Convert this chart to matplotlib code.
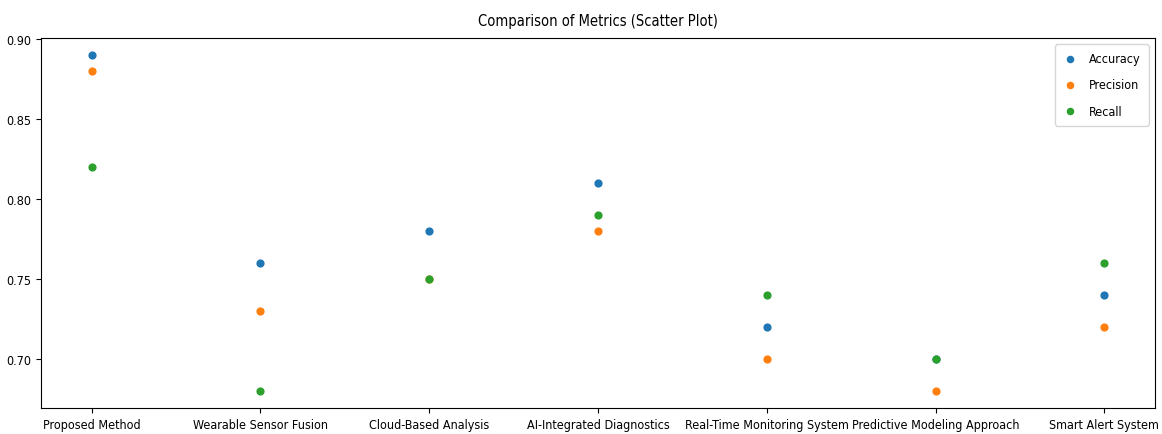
import matplotlib
matplotlib.use("Agg")
import matplotlib.pyplot as plt

categories = ["Proposed Method", "Wearable Sensor Fusion", "Cloud-Based Analysis",
              "AI-Integrated Diagnostics", "Real-Time Monitoring System",
              "Predictive Modeling Approach", "Smart Alert System"]
accuracy = [0.89, 0.76, 0.78, 0.81, 0.72, 0.70, 0.74]
precision = [0.88, 0.73, 0.75, 0.78, 0.70, 0.68, 0.72]
recall = [0.82, 0.68, 0.75, 0.79, 0.74, 0.70, 0.76]

plt.rcParams['font.family'] = ['DejaVu Sans']
fs = 9

fig = plt.figure(figsize=(11.62, 4.35), dpi=100)
ax = fig.add_axes([0.0353, 0.06, 0.9587, 0.8505])

ax.scatter(categories, accuracy, s=24, label="Accuracy", color="#1f77b4")
ax.scatter(categories, precision, s=24, label="Precision", color="#ff7f0e")
ax.scatter(categories, recall, s=24, label="Recall", color="#2ca02c")

ax.set_title("Comparison of Metrics (Scatter Plot)", fontsize=10.5, fontstretch='condensed', pad=9)
ax.set_yticks([0.70, 0.75, 0.80, 0.85, 0.90])
ax.set_yticklabels(["0.70", "0.75", "0.80", "0.85", "0.90"])
ax.tick_params(labelsize=fs)
for lbl in ax.get_xticklabels() + ax.get_yticklabels():
    lbl.set_fontstretch('condensed')
leg = ax.legend(loc="upper right", fontsize=fs, labelspacing=1.05, borderpad=0.65,
                handlelength=1.2, handletextpad=0.9, markerscale=0.9)
for t in leg.get_texts():
    t.set_fontstretch('condensed')

fig.savefig("out.png", dpi=100)
